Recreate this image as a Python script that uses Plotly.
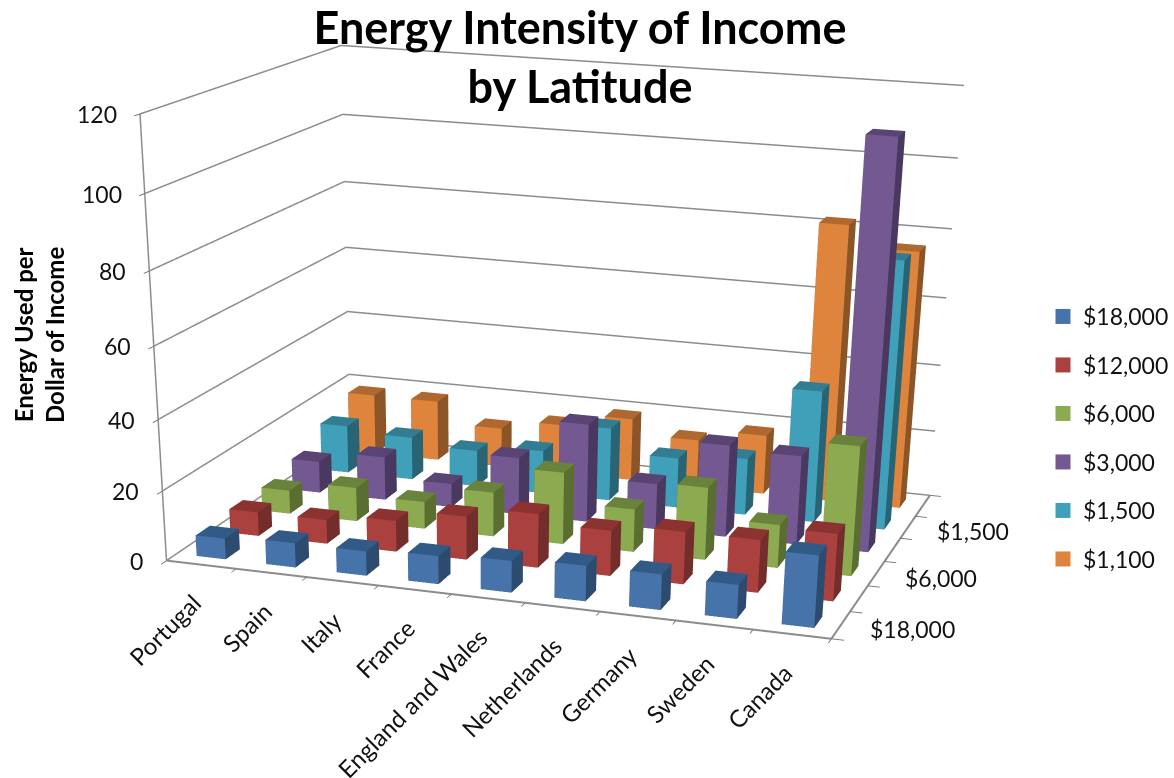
import plotly.graph_objects as go

categories = ["Portugal", "Spain", "Italy", "France", "England and Wales",
              "Netherlands", "Germany", "Sweden", "Canada"]
income_18000 = [6, 7, 7, 8, 9, 10, 10, 9.5, 20]
income_12000 = [7, 7, 9, 12.5, 15.5, 13, 15, 15, 19]
income_6000 = [7, 10, 8, 13, 21, 12.5, 21, 12.5, 37]
income_3000 = [9.5, 13, 7, 17, 29, 13.5, 27, 26, 115]
income_1500 = [14.5, 13, 11, 13, 22, 15, 17, 39, 78]
income_1100 = [18.5, 18.5, 12, 15, 19, 14.5, 18, 82, 76]
series_names = ["$18,000", "$12,000", "$6,000", "$3,000", "$1,500", "$1,100"]
series_values = [income_18000, income_12000, income_6000, income_3000, income_1500, income_1100]
front_colors = ["#4674AA", "#AA413E", "#8CAA50", "#735891", "#41A0B9", "#DE843C"]
top_colors = ["#325A87", "#8C3230", "#69823C", "#5A4473", "#327D91", "#AF6930"]
side_colors = ["#2D4B6E", "#732D2B", "#5A6E32", "#49385F", "#286473", "#8C5528"]
z_ticks = [0, 20, 40, 60, 80, 100, 120]
depth_labels = {0: "$18,000", 2: "$6,000", 4: "$1,500"}

# The tall figure keeps the lens centre well below the visible part of the page.
W, H = 1174, 2200
BAR = 0.42
GRID = "#8C8C8C"


def bar_mesh(values, row):
    xs, ys, zs, i_, j_, k_, fc = [], [], [], [], [], [], []
    faces = [((0, 1, 5, 4), front_colors), ((1, 2, 6, 5), side_colors), ((4, 5, 6, 7), top_colors),
             ((3, 0, 4, 7), side_colors), ((2, 3, 7, 6), side_colors)]
    for col, v in enumerate(values):
        x0, x1 = col + 0.5 - BAR / 2, col + 0.5 + BAR / 2
        y0, y1 = row + 0.5 - BAR / 2, row + 0.5 + BAR / 2
        base = len(xs)
        xs += [x0, x1, x1, x0, x0, x1, x1, x0]
        ys += [y0, y0, y1, y1, y0, y0, y1, y1]
        zs += [0, 0, 0, 0, v, v, v, v]
        for (a, b, c, d), palette in faces:
            i_ += [base + a, base + a]
            j_ += [base + b, base + c]
            k_ += [base + c, base + d]
            fc += [palette[row], palette[row]]
    return xs, ys, zs, i_, j_, k_, fc


fig = go.Figure()
for row, (name, vals) in enumerate(zip(series_names, series_values)):
    xs, ys, zs, i_, j_, k_, fc = bar_mesh(vals, row)
    fig.add_trace(go.Mesh3d(x=xs, y=ys, z=zs, i=i_, j=j_, k=k_, facecolor=fc, flatshading=True,
                            lighting=dict(ambient=1, diffuse=0, specular=0, roughness=1, fresnel=0),
                            name=name, showlegend=False, legendgroup=name, hoverinfo="name"))
    fig.add_trace(go.Scatter3d(x=[None], y=[None], z=[None], mode="markers", name=name, legendgroup=name,
                               marker=dict(symbol="square", size=15, color=front_colors[row]), showlegend=True))

# Gridlines run along the left and back walls at every z tick.
for v in z_ticks:
    fig.add_trace(go.Scatter3d(x=[0, 0, 9], y=[0, 6, 6], z=[v, v, v], mode="lines",
                               line=dict(color=GRID, width=3), showlegend=False, hoverinfo="skip"))
fig.add_trace(go.Scatter3d(x=[0, 0], y=[0, 0], z=[0, 120], mode="lines",
                           line=dict(color=GRID, width=3), showlegend=False, hoverinfo="skip"))
fig.add_trace(go.Scatter3d(x=[0, 9, 9], y=[0, 0, 6], z=[0, 0, 0], mode="lines",
                           line=dict(color=GRID, width=4), showlegend=False, hoverinfo="skip"))

font = dict(family="Lato", size=23, color="#111")
notes = []
for i, c in enumerate(categories):
    notes.append(dict(x=i + 0.5, y=0, z=0, text=c, textangle=-45, xanchor="right", yanchor="top",
                      showarrow=False, xshift=8, yshift=-21, font=dict(family="Lato", size=24, color="#111")))
for r, t in depth_labels.items():
    notes.append(dict(x=9, y=r + 0.5, z=0, text=t, xanchor="left", yanchor="middle",
                      showarrow=False, xshift=27, yshift=-4, font=font))
for v in z_ticks:
    notes.append(dict(x=0, y=0, z=v, text=str(v), xanchor="right", yanchor="middle",
                      showarrow=False, xshift=-21, font=font))

axis_common = dict(showbackground=False, showspikes=False, title=dict(text=""), showticklabels=False,
                   showline=False, ticks="outside", ticklen=10, tickcolor="#707070", tickwidth=2,
                   zeroline=False, showgrid=False)
fig.update_layout(
    width=W, height=H, margin=dict(l=0, r=0, t=0, b=0, autoexpand=False), paper_bgcolor="white",
    title=dict(text="<b>Energy Intensity of Income<br>by Latitude</b>", x=580 / W, xanchor="center",
               y=1 - 44 / H, yanchor="top", font=dict(family="Lato", size=45, color="#000")),
    legend=dict(x=1043 / W, xanchor="left", y=1 - 295 / H, yanchor="top", font=font,
                tracegroupgap=15.6, traceorder="grouped", bgcolor="rgba(0,0,0,0)"),
    annotations=[dict(x=39 / W, y=1 - 335 / H, xref="paper", yref="paper", xanchor="center", yanchor="middle",
                      text="<b>Energy Used per<br>Dollar of Income</b>", textangle=-90, showarrow=False,
                      font=dict(family="Lato", size=24, color="#000"))],
    scene=dict(domain=dict(x=[0, 1], y=[0, 1]), aspectmode="manual", dragmode="orbit",
               aspectratio=dict(x=1.6035, y=1.183, z=1.0),
               camera=dict(eye=dict(x=1.896, y=-6.1443, z=1.4474), center=dict(x=0.3347, y=-0.8393, z=-1.621),
                           up=dict(x=-0.0183, y=-0.0056, z=1.0), projection=dict(type="perspective")),
               xaxis=dict(range=[0, 9], tickvals=list(range(10)), **axis_common),
               yaxis=dict(range=[0, 6], tickvals=list(range(7)), **axis_common),
               zaxis=dict(range=[0, 120], tickvals=z_ticks, **axis_common),
               annotations=notes))
fig.write_html("out.html", config=dict(displayModeBar=False))
